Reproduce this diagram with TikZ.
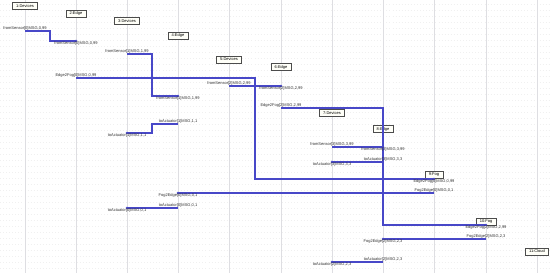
\documentclass[tikz,border=0pt]{standalone}
\usepackage{fontspec}
\setmainfont{Liberation Sans}
\usetikzlibrary{calc,shadows}
\definecolor{msgblue}{RGB}{72,72,200}
\definecolor{lifegray}{RGB}{222,222,226}
\definecolor{boxfill}{RGB}{255,255,248}
\tikzset{
  lifebox/.style={draw=black!70, fill=boxfill, line width=0.3pt,
    inner xsep=2.8pt, inner ysep=0.7pt, minimum height=5pt,
    font=\fontsize{3}{3.4}\selectfont,
    drop shadow={shadow xshift=0.6pt, shadow yshift=-0.6pt, fill=black, opacity=1}},
  lifeline/.style={draw=lifegray, line width=0.5pt},
  gridline/.style={draw=black!6, line width=0.3pt, dotted},
  msgline/.style={draw=msgblue, line width=0.8pt},
  msglbl/.style={font=\fontsize{3}{3.4}\selectfont, text=black!80, inner sep=0.5pt},
}
% #1 name, #2/#3 start, #4/#5 end, #6 corner x, #7 label
\newcommand\seqmsg[7]{%
  \coordinate (#1s) at (#2,#3);
  \coordinate (#1e) at (#4,#5);
  \coordinate (#1m) at (#6,#3);
  \draw[msgline] (#1s) -- (#1m) |- (#1e);
  \fill[msgblue] (#1e) circle (1.05pt);
  \node[msglbl, anchor=south] (#1a) at (#1s) {#7};
  \node[msglbl, anchor=north] (#1b) at (#1e) {#7};
}
\begin{document}
\begin{tikzpicture}[x=0.75pt, y=-0.75pt]
\fill[white] (0,0) rectangle (550,273);
\useasboundingbox (0,0) rectangle (550,273);
% faint grid
\foreach \yy in {4,10,...,272} {
  \draw[gridline] (0,\yy) -- (550,\yy);
}
% lifelines
\foreach \i/\xx in {1/25,2/76,3/127,4/178,5/229,6/281,7/332,8/383,9/434,10/486,11/537} {
  \coordinate (T\i) at (\xx,0);
  \coordinate (B\i) at (\xx,273);
  \draw[lifeline] (T\i) -- (B\i);
}
% boxes
\node[lifebox] (n1) at (25,6) {1:Devices};
\node[lifebox] (n2) at (76,13.5) {2:Edge};
\node[lifebox] (n3) at (127,21) {3:Devices};
\node[lifebox] (n4) at (178,35.5) {4:Edge};
\node[lifebox] (n5) at (229,59.5) {5:Devices};
\node[lifebox] (n6) at (281,67) {6:Edge};
\node[lifebox] (n7) at (332,113) {7:Devices};
\node[lifebox] (n8) at (383,129) {8:Edge};
\node[lifebox] (n9) at (434,174.5) {9:Fog};
\node[lifebox] (n10) at (486,221.5) {10:Fog};
\node[lifebox] (n11) at (537,251.5) {11:Cloud};
% messages
\seqmsg{ma}{25}{31}{76}{41}{50}{fromSensor[0]MSG,0,99}
\seqmsg{mb}{127}{54}{178}{96}{152}{fromSensor[1]MSG,1,99}
\seqmsg{mc}{76}{78}{434}{179}{255}{Edge2Fog[0]MSG,0,99}
\seqmsg{md}{229}{86}{281}{86}{255}{fromSensor[2]MSG,2,99}
\seqmsg{me}{178}{124}{127}{133}{152}{toActuator[1]MSG,1,1}
\seqmsg{mf}{281}{108}{486}{225}{383}{Edge2Fog[2]MSG,2,99}
\seqmsg{mg}{332}{147}{383}{147}{357}{fromSensor[3]MSG,3,99}
\seqmsg{mh}{383}{162}{332}{162}{357}{toActuator[3]MSG,3,3}
\seqmsg{mi}{434}{193}{178}{193}{306}{Fog2Edge[0]MSG,0,1}
\seqmsg{mj}{178}{208}{127}{208}{152}{toActuator[0]MSG,0,1}
\seqmsg{mk}{486}{239}{383}{239}{434}{Fog2Edge[2]MSG,2,3}
\seqmsg{ml}{383}{262}{332}{262}{357}{toActuator[2]MSG,2,3}
\end{tikzpicture}
\end{document}
